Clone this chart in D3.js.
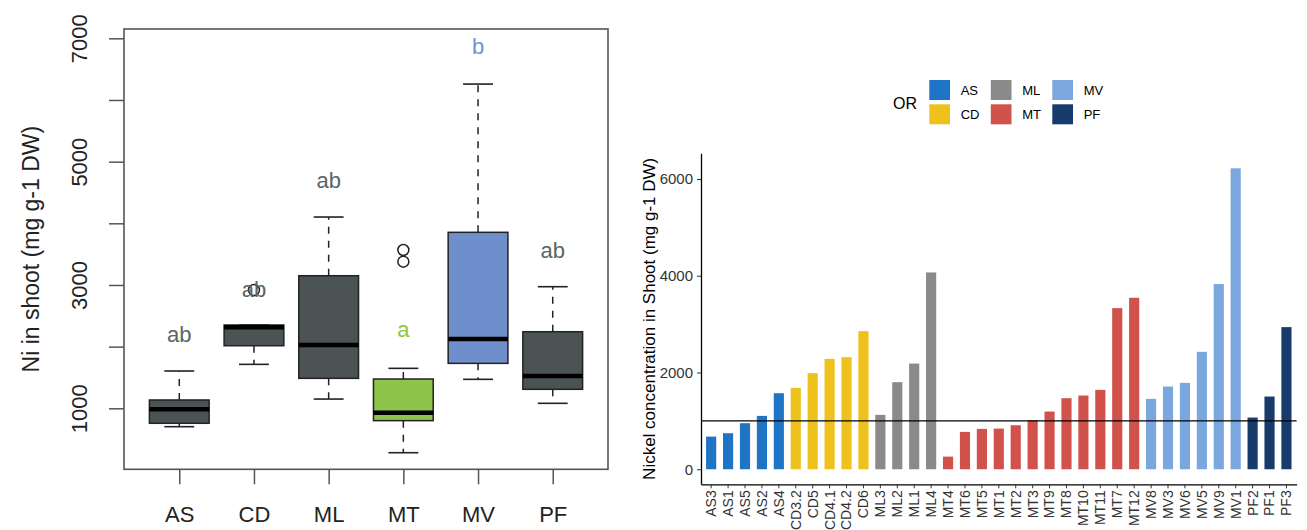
<!DOCTYPE html>
<html>
<head>
<meta charset="utf-8">
<script src="https://cdn.jsdelivr.net/npm/d3@7"></script>
<style>
  body { margin: 0; background: #fff; }
  svg { display: block; font-family: "Liberation Sans", Arial, sans-serif; }
</style>
</head>
<body>
<div id="chart"></div>
<script>
// ---- left panel: boxplot of Ni in shoot by origin
var groups = ["AS", "CD", "ML", "MT", "MV", "PF"];
var whiskLow = [702, 1713, 1150, 280, 1470, 1081];
var q1 = [757, 2015, 1486, 800, 1729, 1308];
var med = [984, 2313, 2027, 929, 2124, 1524];
var q3 = [1135, 2351, 3150, 1475, 3854, 2242];
var whiskHigh = [1605, 2351, 4102, 1648, 6258, 2972];
var outliers = [[], [2918], [], [3567, 3378], [], []];
var letters = ["ab", "ab", "ab", "a", "b", "ab"];
var letterY = [2200, 2930, 4700, 2290, 6880, 3570];
var boxFill = ["#4b5354", "#4b5354", "#4b5354", "#8dc449", "#6e8fcb", "#4b5354"];
var letterColor = ["#5b6566", "#5b6566", "#5b6566", "#8dc63f", "#6f93d6", "#5b6566"];
var leftTicks = [1000, 2000, 3000, 4000, 5000, 6000, 7000];

// ---- right panel: nickel concentration per sample
var samples = ["AS3", "AS1", "AS5", "AS2", "AS4",
  "CD3.2", "CD5", "CD4.1", "CD4.2", "CD6",
  "ML3", "ML2", "ML1", "ML4",
  "MT4", "MT6", "MT5", "MT1", "MT2", "MT3", "MT9", "MT8", "MT10", "MT11", "MT7", "MT12",
  "MV8", "MV3", "MV6", "MV5", "MV9", "MV1",
  "PF2", "PF1", "PF3"];
var sampleOR = ["AS", "AS", "AS", "AS", "AS",
  "CD", "CD", "CD", "CD", "CD",
  "ML", "ML", "ML", "ML",
  "MT", "MT", "MT", "MT", "MT", "MT", "MT", "MT", "MT", "MT", "MT", "MT",
  "MV", "MV", "MV", "MV", "MV", "MV",
  "PF", "PF", "PF"];
var nickel = [675, 745, 952, 1103, 1572,
  1682, 1986, 2282, 2317, 2855,
  1124, 1800, 2185, 4068,
  261, 772, 834, 841, 910, 1014, 1193, 1469, 1524, 1641, 3331, 3545,
  1455, 1710, 1786, 2427, 3828, 6220,
  1069, 1503, 2938];
var orCodes = ["AS", "CD", "ML", "MT", "MV", "PF"];
var orColors = ["#1f74c6", "#efc11c", "#8a8a8a", "#d1524b", "#7aa7dd", "#173b6b"];
var rightTicks = [0, 2000, 4000, 6000];
var refLine = 1000;

var svg = d3.select("#chart")
  .append("svg")
  .attr("width", 1307)
  .attr("height", 530);

// ================= left boxplot =================
var box = {left: 124, right: 608, top: 29, bottom: 469.3};

var xL = d3.scaleLinear()
  .domain([0.26, 6.74])
  .range([box.left, box.right]);

var yL = d3.scaleLinear()
  .domain([11, 7151])
  .range([box.bottom, box.top]);

var left = svg.append("g");
var bw = xL(1.4) - xL(1);   // half box width (0.4 units)
var sw = bw / 2;            // half staple width

groups.forEach(function(g, i) {
  var cx = xL(i + 1);
  // dashed whiskers
  left.append("line")
    .attr("x1", cx).attr("x2", cx)
    .attr("y1", yL(q3[i])).attr("y2", yL(whiskHigh[i]))
    .attr("stroke", "#222").attr("stroke-width", 1.5)
    .attr("stroke-dasharray", "7,7");
  left.append("line")
    .attr("x1", cx).attr("x2", cx)
    .attr("y1", yL(q1[i])).attr("y2", yL(whiskLow[i]))
    .attr("stroke", "#222").attr("stroke-width", 1.5)
    .attr("stroke-dasharray", "7,7");
  // staples
  [whiskLow[i], whiskHigh[i]].forEach(function(v) {
    left.append("line")
      .attr("x1", cx - sw).attr("x2", cx + sw)
      .attr("y1", yL(v)).attr("y2", yL(v))
      .attr("stroke", "#222").attr("stroke-width", 1.6);
  });
  // box
  left.append("rect")
    .attr("x", cx - bw)
    .attr("y", yL(q3[i]))
    .attr("width", bw * 2)
    .attr("height", yL(q1[i]) - yL(q3[i]))
    .attr("fill", boxFill[i])
    .attr("stroke", "#222")
    .attr("stroke-width", 1.5);
  // median
  left.append("line")
    .attr("x1", cx - bw).attr("x2", cx + bw)
    .attr("y1", yL(med[i])).attr("y2", yL(med[i]))
    .attr("stroke", "#000").attr("stroke-width", 4.5);
  // outliers
  outliers[i].forEach(function(v) {
    left.append("circle")
      .attr("cx", cx).attr("cy", yL(v)).attr("r", 5.5)
      .attr("fill", "none").attr("stroke", "#222").attr("stroke-width", 1.5);
  });
  // letters
  left.append("text")
    .attr("x", cx)
    .attr("y", yL(letterY[i]))
    .attr("dy", "0.36em")
    .attr("text-anchor", "middle")
    .style("font-size", "22px")
    .attr("fill", letterColor[i])
    .text(letters[i]);
});

// frame
left.append("rect")
  .attr("x", box.left).attr("y", box.top)
  .attr("width", box.right - box.left)
  .attr("height", box.bottom - box.top)
  .attr("fill", "none")
  .attr("stroke", "#555")
  .attr("stroke-width", 1.6);

// y axis (R style, rotated labels)
var leftAxis = d3.axisLeft(yL)
  .tickValues(leftTicks)
  .tickSize(15)
  .tickFormat(function(d) { return (d / 1000) % 2 === 1 ? d : ""; });

var gyL = left.append("g")
  .attr("transform", "translate(" + box.left + ",0)")
  .call(leftAxis);
gyL.select(".domain").remove();
gyL.selectAll("line").attr("stroke", "#555").attr("stroke-width", 1.5);
gyL.selectAll("text")
  .attr("x", null).attr("dy", null)
  .attr("text-anchor", "middle")
  .attr("transform", "translate(-37,0) rotate(-90)")
  .style("font-size", "22px")
  .attr("fill", "#222");

// x axis
var bottomAxis = d3.axisBottom(xL)
  .tickValues([1, 2, 3, 4, 5, 6])
  .tickSize(15)
  .tickPadding(22)
  .tickFormat(function(d) { return groups[d - 1]; });

var gxL = left.append("g")
  .attr("transform", "translate(0," + box.bottom + ")")
  .call(bottomAxis);
gxL.select(".domain").remove();
gxL.selectAll("line").attr("stroke", "#555").attr("stroke-width", 1.5);
gxL.selectAll("text")
  .style("font-size", "22px")
  .attr("fill", "#222");

// y label
left.append("text")
  .attr("transform", "translate(39," + ((box.top + box.bottom) / 2) + ") rotate(-90)")
  .attr("text-anchor", "middle")
  .style("font-size", "23px")
  .attr("fill", "#222")
  .text("Ni in shoot (mg g-1 DW)");

// ================= right bar chart =================
var panel = {left: 701, right: 1296.6, top: 153.3, bottom: 484.3};

var xR = d3.scaleBand()
  .domain(samples)
  .range([panel.left, panel.right])
  .paddingInner(0.4)
  .paddingOuter(0.3);

var yR = d3.scaleLinear()
  .domain([-311, 6531])
  .range([panel.bottom, panel.top]);

var colorR = d3.scaleOrdinal()
  .domain(orCodes)
  .range(orColors);

var right = svg.append("g");

right.selectAll("rect.bar")
  .data(samples)
  .enter()
  .append("rect")
  .attr("class", "bar")
  .attr("x", d => xR(d))
  .attr("width", xR.bandwidth())
  .attr("y", (d, i) => yR(nickel[i]))
  .attr("height", (d, i) => yR(0) - yR(nickel[i]))
  .attr("fill", (d, i) => colorR(sampleOR[i]));

// reference line
right.append("line")
  .attr("x1", panel.left).attr("x2", panel.right)
  .attr("y1", yR(refLine)).attr("y2", yR(refLine))
  .attr("stroke", "#000").attr("stroke-width", 1.2);

var gyR = right.append("g")
  .attr("transform", "translate(" + panel.left + ",0)")
  .call(d3.axisLeft(yR).tickValues(rightTicks).tickFormat(d3.format("d"))
    .tickSize(4).tickSizeOuter(0).tickPadding(4));
gyR.select(".domain").attr("stroke", "#000").attr("stroke-width", 1.3);
gyR.selectAll("line").attr("stroke", "#333");
gyR.selectAll("text").style("font-size", "15px").attr("fill", "#333");

var gxR = right.append("g")
  .attr("transform", "translate(0," + panel.bottom + ")")
  .call(d3.axisBottom(xR).tickSize(4).tickSizeOuter(0));
gxR.select(".domain").attr("stroke", "#000").attr("stroke-width", 1.3);
gxR.selectAll("line").attr("stroke", "#333");
gxR.selectAll("text")
  .attr("transform", "rotate(-90)")
  .attr("x", -6)
  .attr("y", 0)
  .attr("dy", "0.35em")
  .attr("text-anchor", "end")
  .style("font-size", "14px")
  .attr("fill", "#333");

right.append("text")
  .attr("transform", "translate(655," + ((panel.top + panel.bottom) / 2) + ") rotate(-90)")
  .attr("text-anchor", "middle")
  .style("font-size", "17px")
  .attr("fill", "#000")
  .text("Nickel concentration in Shoot (mg g-1 DW)");

// legend
var legend = right.append("g");
legend.append("text")
  .attr("x", 893).attr("y", 109)
  .style("font-size", "16px")
  .attr("fill", "#000")
  .text("OR");

orCodes.forEach(function(code, i) {
  var col = Math.floor(i / 2), row = i % 2;
  var kx = 929.3 + col * 61.5;
  var ky = 80 + row * 24.3;
  legend.append("rect")
    .attr("x", kx).attr("y", ky)
    .attr("width", 20.7).attr("height", 20)
    .attr("fill", orColors[i]);
  legend.append("text")
    .attr("x", kx + 31.4).attr("y", ky + 10)
    .attr("dy", "0.35em")
    .style("font-size", "13px")
    .attr("fill", "#000")
    .text(code);
});
</script>
</body>
</html>
